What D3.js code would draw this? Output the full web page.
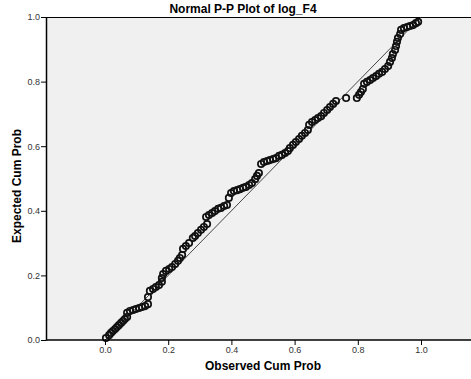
<!DOCTYPE html>
<html>
<head>
<meta charset="utf-8">
<script src="https://cdn.jsdelivr.net/npm/d3@7"></script>
<style>
  body { margin: 0; background: #fff; }
  text { font-family: "Liberation Sans", Arial, sans-serif; }
</style>
</head>
<body>
<div id="chart"></div>
<script>
// observed / expected cumulative probabilities
const observed = [
  0.003, 0.013, 0.019, 0.025, 0.032, 0.038, 0.044, 0.051, 0.057, 0.063, 0.070,
  0.070, 0.079, 0.089, 0.098, 0.108, 0.117, 0.127, 0.136, 0.136,
  0.142, 0.152, 0.161, 0.171, 0.180, 0.180,
  0.184, 0.193, 0.203, 0.212, 0.222, 0.231, 0.237, 0.244,
  0.247, 0.256, 0.266, 0.278, 0.285, 0.294, 0.304, 0.313, 0.323,
  0.320, 0.329, 0.339, 0.348, 0.358, 0.367, 0.377, 0.386, 0.392,
  0.399, 0.408, 0.418, 0.427, 0.437, 0.446, 0.456, 0.465, 0.475, 0.481, 0.487,
  0.494, 0.503, 0.513, 0.522, 0.532, 0.541, 0.551, 0.560, 0.570, 0.579,
  0.585, 0.595, 0.604, 0.614, 0.623, 0.633, 0.642,
  0.646, 0.655, 0.665, 0.674, 0.684, 0.693, 0.703, 0.712, 0.722, 0.731, 0.763,
  0.797, 0.804, 0.810, 0.816,
  0.820, 0.829, 0.839, 0.848, 0.858, 0.867, 0.877, 0.886, 0.896, 0.902, 0.908,
  0.911, 0.918, 0.921, 0.924, 0.927, 0.934, 0.937,
  0.946, 0.956, 0.965, 0.975, 0.984, 0.991
];
const expected = [
  0.006, 0.015, 0.022, 0.028, 0.034, 0.040, 0.046, 0.053, 0.059, 0.065, 0.071,
  0.084, 0.090, 0.093, 0.096, 0.099, 0.102, 0.105, 0.111, 0.133,
  0.152, 0.158, 0.164, 0.170, 0.180, 0.192,
  0.204, 0.214, 0.220, 0.226, 0.235, 0.245, 0.254, 0.263,
  0.282, 0.291, 0.300, 0.316, 0.322, 0.331, 0.341, 0.350, 0.359,
  0.381, 0.387, 0.393, 0.399, 0.406, 0.409, 0.415, 0.418, 0.440,
  0.455, 0.461, 0.464, 0.467, 0.471, 0.474, 0.480, 0.486, 0.498, 0.508, 0.517,
  0.545, 0.551, 0.554, 0.557, 0.560, 0.563, 0.570, 0.573, 0.579, 0.585,
  0.594, 0.604, 0.613, 0.622, 0.632, 0.641, 0.650,
  0.666, 0.675, 0.681, 0.687, 0.693, 0.703, 0.712, 0.721, 0.731, 0.740, 0.749,
  0.749, 0.759, 0.768, 0.777,
  0.793, 0.799, 0.805, 0.811, 0.817, 0.824, 0.830, 0.839, 0.848, 0.861, 0.873,
  0.885, 0.898, 0.910, 0.923, 0.935, 0.947, 0.960,
  0.966, 0.969, 0.972, 0.975, 0.981, 0.985
];
const xTicks = [0.0, 0.2, 0.4, 0.6, 0.8, 1.0];
const yTicks = [0.0, 0.2, 0.4, 0.6, 0.8, 1.0];

const W = 471, H = 379;
const plot = { left: 46, right: 471, top: 17, bottom: 340 };

const svg = d3.select('#chart').append('svg')
  .attr('width', W)
  .attr('height', H);

// x: 0 -> 105px, 1 -> 421px (axis starts left of zero)
const x = d3.scaleLinear().domain([0, 1]).range([105, 421]);
const y = d3.scaleLinear().domain([0, 1]).range([plot.bottom, plot.top]);

// plot background
svg.append('rect')
  .attr('x', plot.left)
  .attr('y', plot.top)
  .attr('width', plot.right - plot.left)
  .attr('height', plot.bottom - plot.top)
  .attr('fill', '#f0f0f0');

// top frame line
svg.append('line')
  .attr('x1', plot.left).attr('x2', plot.right)
  .attr('y1', plot.top + 0.5).attr('y2', plot.top + 0.5)
  .attr('stroke', '#000').attr('stroke-width', 1.2);

// reference diagonal
svg.append('line')
  .attr('x1', x(0)).attr('y1', y(0))
  .attr('x2', x(1)).attr('y2', y(1))
  .attr('stroke', '#333').attr('stroke-width', 0.9);

// points
svg.append('g')
  .selectAll('circle')
  .data(observed.map((d, i) => [d, expected[i]]))
  .join('circle')
  .attr('cx', d => x(d[0]))
  .attr('cy', d => y(d[1]))
  .attr('r', 3.2)
  .attr('fill', 'none')
  .attr('stroke', '#111')
  .attr('stroke-width', 1.7);

// axes
const xAxis = svg.append('g')
  .attr('transform', `translate(0, ${plot.bottom})`)
  .call(d3.axisBottom(x).tickValues(xTicks).tickFormat(d3.format('.1f')).tickSize(5).tickSizeOuter(0));
xAxis.select('.domain').remove();
xAxis.append('line')
  .attr('x1', plot.left).attr('x2', plot.right)
  .attr('stroke', '#000').attr('stroke-width', 1.5);

const yAxis = svg.append('g')
  .attr('transform', `translate(${plot.left}, 0)`)
  .call(d3.axisLeft(y).tickValues(yTicks).tickFormat(d3.format('.1f')).tickSize(5).tickSizeOuter(0));
yAxis.select('.domain')
  .attr('stroke-width', 1.5);

svg.selectAll('.tick text')
  .attr('font-size', 9)
  .attr('font-family', '"Liberation Sans", Arial, sans-serif')
  .attr('fill', '#333');
svg.selectAll('.tick line').attr('stroke', '#000');
yAxis.selectAll('.tick text').attr('x', -6);
xAxis.selectAll('.tick text').attr('y', 7);

// title
svg.append('text')
  .attr('x', 243)
  .attr('y', 13)
  .attr('text-anchor', 'middle')
  .attr('font-size', 12)
  .attr('font-weight', 'bold')
  .text('Normal P-P Plot of log_F4');

// x label
svg.append('text')
  .attr('x', 263)
  .attr('y', 370)
  .attr('text-anchor', 'middle')
  .attr('font-size', 12)
  .attr('font-weight', 'bold')
  .text('Observed Cum Prob');

// y label
svg.append('text')
  .attr('transform', 'translate(21, 186) rotate(-90)')
  .attr('text-anchor', 'middle')
  .attr('font-size', 12)
  .attr('font-weight', 'bold')
  .text('Expected Cum Prob');
</script>
</body>
</html>
